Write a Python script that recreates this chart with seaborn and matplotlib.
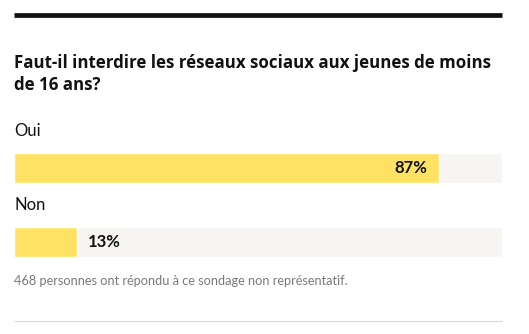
import matplotlib
matplotlib.use("Agg")
import matplotlib.pyplot as plt
import seaborn as sns
import pandas as pd

categories = ["Oui", "Non"]
values = [87, 13]
value_labels = ["87%", "13%"]
title_lines = ["Faut-il interdire les réseaux sociaux aux jeunes de moins", "de 16 ans?"]
footnote = "468 personnes ont répondu à ce sondage non représentatif."

W, H = 529, 334
sns.set_theme(style="white")
plt.rcParams["font.family"] = ["Lato", "DejaVu Sans"]

fig = plt.figure(figsize=(W / 100, H / 100), dpi=100)
fig.patch.set_facecolor("white")
ax = fig.add_axes([0, 0, 1, 1])

df = pd.DataFrame({"cat": categories, "val": values, "full": [100] * len(values)})
sns.barplot(data=df, x="full", y="cat", orient="h", color="#F6F5F1", width=0.405,
            saturation=1, ax=ax)
sns.barplot(data=df, x="val", y="cat", orient="h", color="#FFE264", width=0.405,
            saturation=1, ax=ax)

sx = 488 / 100
ax.set_xlim(-14 / sx, (W - 14) / sx)
sy = 74
ax.set_ylim((H - 168) / sy, -168 / sy)
ax.axis("off")

for i, (v, lab) in enumerate(zip(values, value_labels)):
    if v > 50:
        ax.text(v - 11 / sx, i, lab, ha="right", va="center", fontsize=12,
                fontweight="bold", color="#111111")
    else:
        ax.text(v + 10 / sx, i, lab, ha="left", va="center", fontsize=12,
                fontweight="bold", color="#111111")
    ax.text(0, i - 37 / sy, categories[i], ha="left", va="center", fontsize=12,
            color="#111111")

def fx(x):
    return x / W

def fy(y):
    return 1 - y / H

fig.add_artist(plt.Line2D([fx(14), fx(502)], [fy(15.3), fy(15.3)], color="#111111",
                          linewidth=3.4, solid_capstyle="butt"))
fig.add_artist(plt.Line2D([fx(14), fx(502)], [fy(321), fy(321)], color="#D6D6D6",
                          linewidth=0.8, solid_capstyle="butt"))

tfam = ["Open Sans", "DejaVu Sans"]
t1 = fig.text(fx(14), fy(68.5), title_lines[0], ha="left", va="baseline", fontsize=12,
              fontweight="bold", color="#111111", family=tfam)
renderer = fig.canvas.get_renderer()
wpx = t1.get_window_extent(renderer).width
fs = 12 * 475 / wpx
t1.set_fontsize(fs)
fig.text(fx(14), fy(90), title_lines[1], ha="left", va="baseline", fontsize=fs,
         fontweight="bold", color="#111111", family=tfam)
fig.text(fx(14), fy(281), footnote, ha="left", va="center", fontsize=9.2,
         color="#7A7A7A")

fig.savefig("out.png", dpi=100, facecolor="white")
